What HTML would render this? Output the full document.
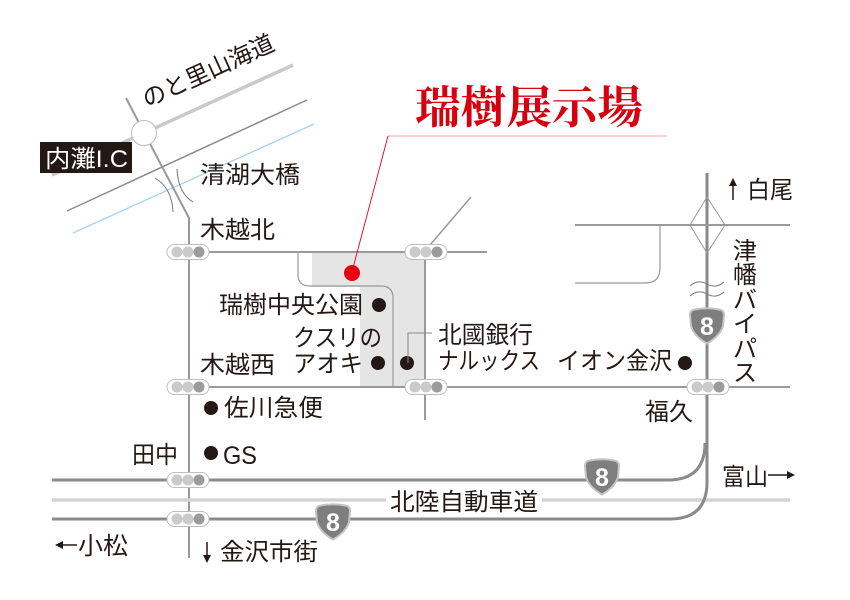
<!DOCTYPE html>
<html><head><meta charset="utf-8">
<style>
html,body{margin:0;padding:0;background:#fff;}
svg{display:block;}
text{font-family:"Liberation Sans","Noto Sans CJK JP",sans-serif;fill:#231815;font-size:24px;}
</style></head><body>
<svg width="850" height="600" viewBox="0 0 850 600" xmlns="http://www.w3.org/2000/svg">
<defs>
<g id="sig">
 <rect x="-21" y="-7.5" width="42" height="15" rx="7.5" fill="#fff" stroke="#bdbdbd" stroke-width="1"/>
 <circle cx="-11" cy="0" r="5.5" fill="#cacaca"/>
 <circle cx="0" cy="0" r="5.5" fill="#cacaca"/>
 <circle cx="11" cy="0" r="5.5" fill="#9b9b9b"/>
</g>
</defs>

<!-- upper-left roads -->
<line x1="52" y1="175" x2="293" y2="65" stroke="#c9c9c9" stroke-width="3.5"/>
<line x1="67" y1="211" x2="307" y2="100" stroke="#8c8c8c" stroke-width="1.5"/>
<line x1="73" y1="233" x2="314" y2="124" stroke="#a3d4ef" stroke-width="1.3"/>
<path d="M126,98 L189,218 L189,558" fill="none" stroke="#999" stroke-width="2"/>
<circle cx="144" cy="133" r="12.5" fill="#fff" stroke="#bbb" stroke-width="1"/>
<path d="M155,178 Q172,188 173,212" fill="none" stroke="#777" stroke-width="1"/>
<path d="M177,169 Q178,193 193,202" fill="none" stroke="#777" stroke-width="1"/>
<rect x="40" y="142" width="92" height="31" fill="#231815"/>
<text x="45" y="167" textLength="83" lengthAdjust="spacingAndGlyphs" style="fill:#fff">内灘I.C</text>
<text x="147" y="108" transform="rotate(-24.5 147 108)" textLength="142" lengthAdjust="spacingAndGlyphs">のと里山海道</text>

<!-- shaded site area -->
<polygon points="312,252 425,252 425,387 360,387 360,287 312,287" fill="#e5e5e5"/>
<path d="M298,252 V275 Q298,286 310,286 H381 Q393,286 393,298 V387" fill="none" stroke="#999" stroke-width="1.2"/>

<!-- central roads -->
<line x1="189" y1="252" x2="487" y2="252" stroke="#9a9a9a" stroke-width="2"/>
<line x1="425" y1="252" x2="425" y2="420" stroke="#9a9a9a" stroke-width="2"/>
<line x1="430" y1="245" x2="471" y2="197" stroke="#9a9a9a" stroke-width="1.5"/>
<line x1="189" y1="387" x2="790" y2="387" stroke="#9a9a9a" stroke-width="2"/>

<!-- expressway -->
<line x1="52" y1="500" x2="790" y2="500" stroke="#d3d3d3" stroke-width="3.5"/>

<!-- route 8 -->
<path d="M707,173 V482 Q707,519 670,519 H52" fill="none" stroke="#8a8a8a" stroke-width="3"/>
<path d="M52,480 H668 Q705,480 705,443" fill="none" stroke="#8a8a8a" stroke-width="3"/>

<!-- 白尾 area -->
<line x1="575" y1="225" x2="790" y2="225" stroke="#9a9a9a" stroke-width="2"/>
<path d="M660,225 V268 Q660,283 645,283 H575" fill="none" stroke="#999" stroke-width="1.2"/>
<polygon points="707,197 725,225 707,253 690,225" fill="none" stroke="#999" stroke-width="1"/>
<path d="M690,286 Q698,279 707,284 Q716,289 724,282" fill="none" stroke="#777" stroke-width="1"/>
<path d="M690,296 Q698,289 707,294 Q716,299 724,292" fill="none" stroke="#777" stroke-width="1"/>

<!-- signals -->
<use href="#sig" x="188" y="252"/>
<use href="#sig" x="426" y="252"/>
<use href="#sig" x="188" y="387"/>
<use href="#sig" x="426" y="387"/>
<use href="#sig" x="708" y="387"/>
<use href="#sig" x="188" y="480"/>
<use href="#sig" x="188" y="519"/>

<!-- shields -->
<g transform="translate(707,326)">
 <path d="M-17,-11 Q-17,-16 -12,-16.5 Q0,-19 12,-16.5 Q17,-16 17,-11 L16,0 Q13,10 0,17.5 Q-13,10 -16,0 Z" fill="#7e7e7e" stroke="#c4c4c4" stroke-width="2"/>
 <text x="0" y="9" text-anchor="middle" style="font-family:'Liberation Sans',sans-serif;font-weight:bold;font-size:25px;fill:#fff">8</text>
</g>
<g transform="translate(602,477)">
 <path d="M-17,-11 Q-17,-16 -12,-16.5 Q0,-19 12,-16.5 Q17,-16 17,-11 L16,0 Q13,10 0,17.5 Q-13,10 -16,0 Z" fill="#7e7e7e" stroke="#c4c4c4" stroke-width="2"/>
 <text x="0" y="9" text-anchor="middle" style="font-family:'Liberation Sans',sans-serif;font-weight:bold;font-size:25px;fill:#fff">8</text>
</g>
<g transform="translate(333,522)">
 <path d="M-17,-11 Q-17,-16 -12,-16.5 Q0,-19 12,-16.5 Q17,-16 17,-11 L16,0 Q13,10 0,17.5 Q-13,10 -16,0 Z" fill="#7e7e7e" stroke="#c4c4c4" stroke-width="2"/>
 <text x="0" y="9" text-anchor="middle" style="font-family:'Liberation Sans',sans-serif;font-weight:bold;font-size:25px;fill:#fff">8</text>
</g>

<!-- title & leader -->
<text x="415" y="123" textLength="228" lengthAdjust="spacingAndGlyphs" style="font-family:'Liberation Serif','Noto Serif CJK JP','Noto Serif CJK SC',serif;font-weight:bold;font-size:45px;fill:#d7000f">瑞樹展示場</text>
<line x1="388" y1="136" x2="667" y2="136" stroke="#eba0a8" stroke-width="1"/>
<line x1="388" y1="136" x2="353" y2="268" stroke="#e60012" stroke-width="0.9"/>
<circle cx="352" cy="273" r="8" fill="#e60012"/>

<!-- dots -->
<circle cx="379" cy="305" r="7" fill="#231815"/>
<circle cx="378" cy="363" r="7" fill="#231815"/>
<circle cx="407" cy="363" r="7" fill="#231815"/>
<circle cx="685" cy="363" r="7" fill="#231815"/>
<circle cx="211" cy="408" r="7" fill="#231815"/>
<circle cx="211" cy="453" r="7" fill="#231815"/>
<polyline points="408,363 408,333 432,333" fill="none" stroke="#888" stroke-width="1"/>

<!-- labels -->
<text x="200" y="183" textLength="100" lengthAdjust="spacingAndGlyphs">清湖大橋</text>
<text x="200" y="238" textLength="75" lengthAdjust="spacingAndGlyphs">木越北</text>
<text x="219" y="313" textLength="144" lengthAdjust="spacingAndGlyphs">瑞樹中央公園</text>
<text x="293" y="346" textLength="89" lengthAdjust="spacingAndGlyphs">クスリの</text>
<text x="293" y="372" textLength="70" lengthAdjust="spacingAndGlyphs">アオキ</text>
<text x="200" y="373" textLength="75" lengthAdjust="spacingAndGlyphs">木越西</text>
<text x="438" y="343" textLength="95" lengthAdjust="spacingAndGlyphs">北國銀行</text>
<text x="438" y="369" textLength="102" lengthAdjust="spacingAndGlyphs">ナルックス</text>
<text x="557" y="369" textLength="115" lengthAdjust="spacingAndGlyphs">イオン金沢</text>
<text x="645" y="420" textLength="48" lengthAdjust="spacingAndGlyphs">福久</text>
<text x="224" y="416" textLength="99" lengthAdjust="spacingAndGlyphs">佐川急便</text>
<text x="132" y="463" textLength="46" lengthAdjust="spacingAndGlyphs">田中</text>
<text x="223" y="464" textLength="34" lengthAdjust="spacingAndGlyphs" style="font-size:25px">GS</text>

<rect x="386" y="489" width="156" height="24" fill="#fff"/>
<text x="390" y="510" textLength="148" lengthAdjust="spacingAndGlyphs">北陸自動車道</text>

<!-- 小松 -->
<line x1="60" y1="545" x2="77" y2="545" stroke="#231815" stroke-width="1.5"/>
<polygon points="55,545 63,541 63,549" fill="#231815"/>
<text x="78" y="554" textLength="50" lengthAdjust="spacingAndGlyphs">小松</text>

<!-- 金沢市街 -->
<line x1="207" y1="542" x2="207" y2="557" stroke="#231815" stroke-width="1.5"/>
<polygon points="203,555 207,563 211,555" fill="#231815"/>
<text x="220" y="560" textLength="98" lengthAdjust="spacingAndGlyphs">金沢市街</text>

<!-- 富山 -->
<text x="722" y="485" textLength="46" lengthAdjust="spacingAndGlyphs">富山</text>
<line x1="768" y1="475" x2="790" y2="475" stroke="#231815" stroke-width="1.5"/>
<polygon points="795,475 787,471 787,479" fill="#231815"/>

<!-- 白尾 -->
<line x1="733" y1="184" x2="733" y2="200" stroke="#231815" stroke-width="1.5"/>
<polygon points="729,186 733,178 737,186" fill="#231815"/>
<text x="747" y="198" textLength="46" lengthAdjust="spacingAndGlyphs">白尾</text>

<!-- 津幡バイパス vertical -->
<text x="745" y="259" text-anchor="middle">津</text>
<text x="745" y="283" text-anchor="middle">幡</text>
<text x="745" y="308" text-anchor="middle">バ</text>
<text x="745" y="332" text-anchor="middle">イ</text>
<text x="745" y="357" text-anchor="middle">パ</text>
<text x="745" y="381" text-anchor="middle">ス</text>
</svg>
</body></html>
